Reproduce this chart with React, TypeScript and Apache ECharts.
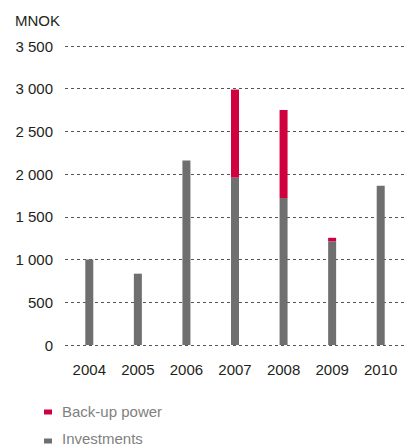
import React, { useEffect, useRef } from "react";
import * as echarts from "echarts";

const years = ["2004", "2005", "2006", "2007", "2008", "2009", "2010"];
const investments = [1000, 835, 2160, 1960, 1720, 1215, 1865];
const backupPower = [0, 0, 0, 1030, 1030, 40, 0];
const yTicks = { min: 0, max: 3500, interval: 500 };
const legendNames = ["Back-up power", "Investments"];

const RED = "#d1003f";
const GREY = "#706f6f";
const FONT = "'Liberation Sans', Arial, Helvetica, sans-serif";

const fmt = (v: number) =>
  String(v).replace(/\B(?=(\d{3})+(?!\d))/g, " ");

// Legend drawn as small rect swatches with text beside them
const legendItem = (name: string, color: string, swatchY: number, textY: number) => [
  {
    type: "rect",
    shape: { x: 44, y: swatchY - 2.5, width: 8, height: 5 },
    style: { fill: color },
  },
  {
    type: "text",
    x: 62,
    y: textY,
    style: {
      text: name,
      fontSize: 15,
      lineHeight: 15,
      fill: "#7f7f7f",
      fontFamily: FONT,
      verticalAlign: "middle",
    },
  },
];

export default function App() {
  const ref = useRef<HTMLDivElement>(null);

  useEffect(() => {
    if (!ref.current) return;
    const chart = echarts.init(ref.current, undefined, { renderer: "svg" });
    chart.setOption({
      animation: false,
      textStyle: { fontFamily: FONT },
      grid: { left: 65, right: 2, top: 46, bottom: 101, containLabel: false },
      graphic: [
        {
          type: "text",
          left: 15,
          top: 13,
          style: { text: "MNOK", fontSize: 15, fill: "#231f20", fontFamily: FONT },
        },
        ...legendItem(legendNames[0], RED, 412, 411.5),
        ...legendItem(legendNames[1], GREY, 441, 438),
      ],
      xAxis: {
        type: "category",
        data: years,
        axisLine: { show: false },
        axisTick: { show: false },
        axisLabel: { color: "#231f20", fontSize: 15, margin: 17, fontFamily: FONT },
      },
      yAxis: {
        type: "value",
        min: yTicks.min,
        max: yTicks.max,
        interval: yTicks.interval,
        axisLine: { show: false },
        axisTick: { show: false },
        axisLabel: {
          color: "#231f20",
          fontSize: 15,
          margin: 12,
          fontFamily: FONT,
          formatter: (v: number) => fmt(v),
        },
        splitLine: { lineStyle: { color: "#555", type: [3, 3], width: 1 } },
      },
      series: [
        {
          name: legendNames[1],
          type: "bar",
          stack: "total",
          data: investments,
          barWidth: 8,
          itemStyle: { color: GREY },
        },
        {
          name: legendNames[0],
          type: "bar",
          stack: "total",
          data: backupPower,
          barWidth: 8,
          itemStyle: { color: RED },
        },
      ],
    });
    return () => chart.dispose();
  }, []);

  return (
    <div
      ref={ref}
      style={{ position: "absolute", left: 0, top: 0, width: 407, height: 446, background: "#fff" }}
    />
  );
}
